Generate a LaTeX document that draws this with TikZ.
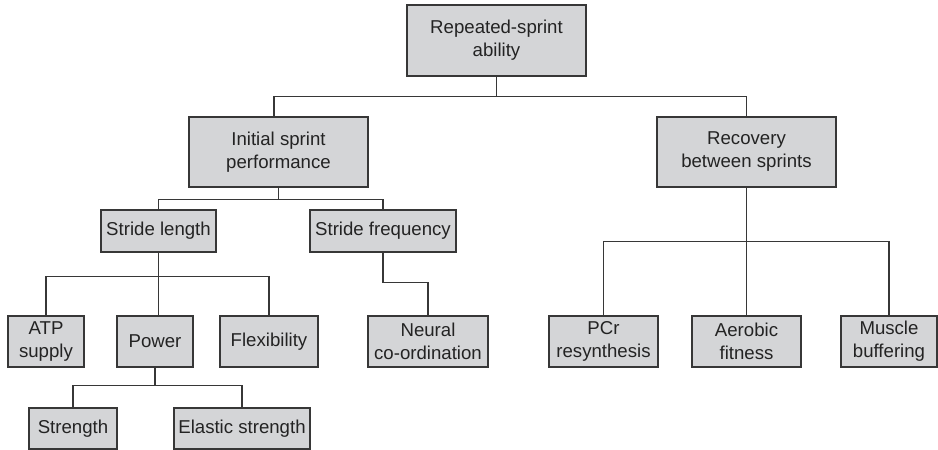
\documentclass[tikz,border=0pt]{standalone}
\usepackage{fontspec}
\setmainfont{Liberation Sans}
\definecolor{fondgris}{RGB}{212,213,215}
\definecolor{traitgris}{RGB}{55,55,55}
\definecolor{textegris}{RGB}{35,35,35}

\begin{document}
\begin{tikzpicture}[x=0.02cm, y=0.02cm]
\tikzset{boite/.style={draw=traitgris, fill=fondgris, line width=0.7pt, rectangle, inner sep=0pt, align=center, text=textegris, font=\fontsize{10.6}{13.1}\selectfont}}
\tikzset{lien/.style={draw=traitgris, line width=0.6pt}}
\useasboundingbox (0,0) rectangle (938,-450);
\node[boite, minimum width=3.58cm, minimum height=1.42cm] (RSA) at (496.5,-40.5) {Repeated-sprint\\ability};
\node[boite, minimum width=3.58cm, minimum height=1.40cm] (ISP) at (278.5,-152) {Initial sprint\\performance};
\node[boite, minimum width=3.58cm, minimum height=1.40cm] (RBS) at (746.5,-152) {Recovery\\between sprints};
\node[boite, minimum width=2.30cm, minimum height=0.84cm] (SL) at (158.5,-231) {Stride length};
\node[boite, minimum width=2.92cm, minimum height=0.84cm] (SF) at (383,-231) {Stride frequency};
\node[boite, minimum width=1.52cm, minimum height=1.02cm] (ATP) at (46,-341.5) {ATP\\supply};
\node[boite, minimum width=1.52cm, minimum height=1.02cm] (POW) at (155,-341.5) {Power};
\node[boite, minimum width=1.96cm, minimum height=1.02cm] (FLX) at (269,-341.5) {Flexibility};
\node[boite, minimum width=2.40cm, minimum height=1.02cm] (NEU) at (428,-341.5) {Neural\\co-ordination};
\node[boite, minimum width=1.76cm, minimum height=0.82cm] (STR) at (73,-428.5) {Strength};
\node[boite, minimum width=2.72cm, minimum height=0.82cm] (ELA) at (242,-428.5) {Elastic strength};
\node[boite, minimum width=2.18cm, minimum height=1.02cm] (PCR) at (603.5,-341.5) {PCr\\resynthesis};
\node[boite, minimum width=2.18cm, minimum height=1.02cm] (AER) at (746.5,-341.5) {Aerobic\\fitness};
\node[boite, minimum width=1.92cm, minimum height=1.02cm] (MUS) at (889,-341.5) {Muscle\\buffering};
\draw[lien] (RSA.south) -- ++(0,-20) -| ([xshift=-0.09cm]ISP.north);
\draw[lien] (RSA.south) -- ++(0,-20) -| (RBS.north);
\draw[lien] (ISP.south) -- ++(0,-12) -| (SL.north);
\draw[lien] (ISP.south) -- ++(0,-12) -| (SF.north);
\draw[lien] (SL.south) -- ++(0,-24) -| (ATP.north);
\draw[lien] (SL.south) -- (SL.south |- POW.north);
\draw[lien] (SL.south) -- ++(0,-24) -| (FLX.north);
\draw[lien] (SF.south) -- ++(0,-30) -| (NEU.north);
\draw[lien] (POW.south) -- ++(0,-18) -| (STR.north);
\draw[lien] (POW.south) -- ++(0,-18) -| (ELA.north);
\draw[lien] (RBS.south) -- ++(0,-54) -| (PCR.north);
\draw[lien] (RBS.south) -- (AER.north);
\draw[lien] (RBS.south) -- ++(0,-54) -| (MUS.north);
\end{tikzpicture}
\end{document}
